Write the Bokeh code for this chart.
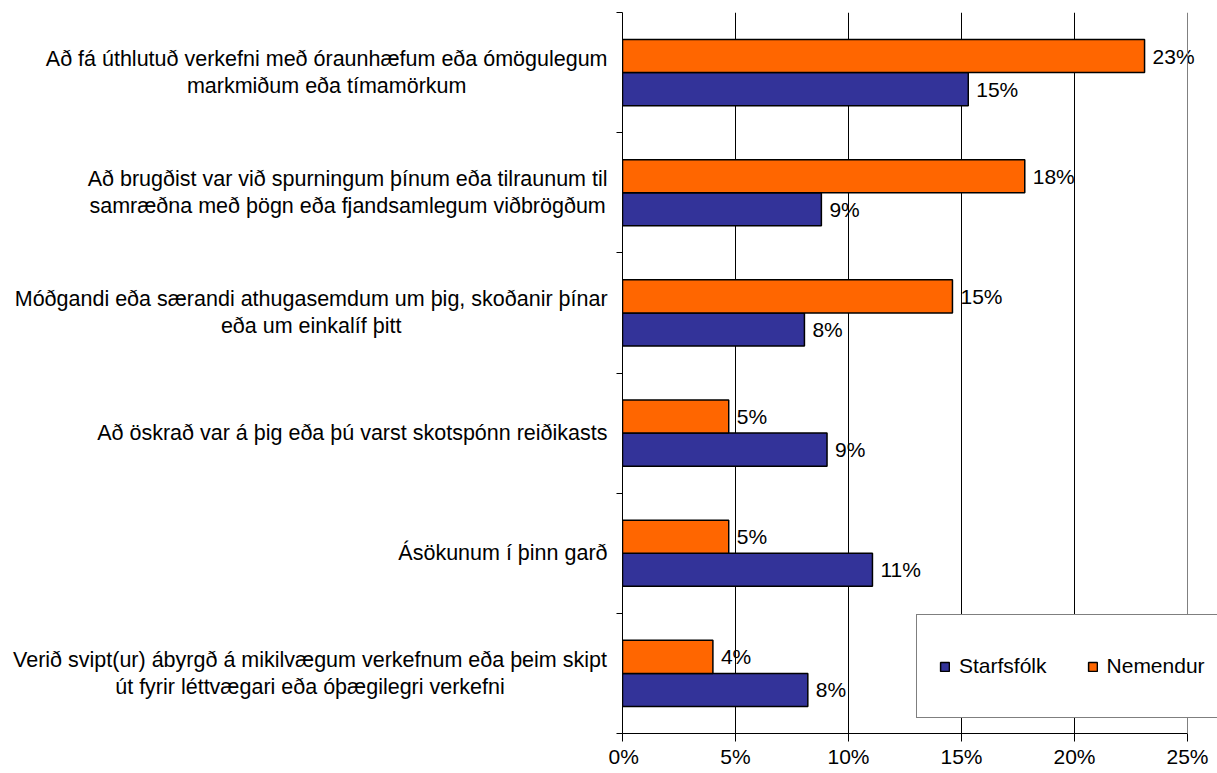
from bokeh.plotting import figure
from bokeh.models import Range1d, FixedTicker, ColumnDataSource, LabelSet, Legend, LegendItem, Span
from bokeh.layouts import row
from bokeh.embed import file_html
from bokeh.resources import INLINE
from bokeh.core.properties import value

# ---------------- data ----------------
categories = [
    ["Að fá úthlutuð verkefni með óraunhæfum eða ómögulegum", "markmiðum eða tímamörkum"],
    ["Að brugðist var við spurningum þínum eða tilraunum til", "samræðna með þögn eða fjandsamlegum viðbrögðum"],
    ["Móðgandi eða særandi athugasemdum um þig, skoðanir þínar", "eða um einkalíf þitt"],
    ["Að öskrað var á þig eða þú varst skotspónn reiðikasts"],
    ["Ásökunum í þinn garð"],
    ["Verið svipt(ur) ábyrgð á mikilvægum verkefnum eða þeim skipt", "út fyrir léttvægari eða óþægilegri verkefni"],
]
starfsfolk = [15.3, 8.8, 8.05, 9.05, 11.06, 8.2]
nemendur = [23.1, 17.8, 14.6, 4.7, 4.7, 4.0]
series_names = ["Starfsfólk", "Nemendur"]
series_colors = ["#333399", "#FF6600"]
x_ticks = [0, 5, 10, 15, 20, 25]
x_tick_labels = ["0%", "5%", "10%", "15%", "20%", "25%"]

FONT = "Liberation Sans"
CAT_FS = 21.5
NUM_FS = 21

# approximate Arial/Liberation Sans advance widths (per 1000 em)
W = {' ': 278, '(': 333, ')': 333, ',': 278, '%': 889, 'A': 667, 'Á': 667, 'M': 833, 'V': 667,
     'a': 556, 'b': 556, 'c': 500, 'd': 556, 'e': 556, 'f': 278, 'g': 556, 'h': 556, 'i': 222,
     'j': 222, 'k': 500, 'l': 222, 'm': 833, 'n': 556, 'o': 556, 'p': 556, 'r': 333, 's': 500,
     't': 278, 'u': 556, 'v': 500, 'y': 500, 'æ': 889, 'ð': 556, 'þ': 556, 'á': 556, 'é': 556,
     'í': 278, 'ó': 556, 'ö': 556, 'ú': 556, 'ý': 500}


def text_w(s, fs):
    return sum(W.get(c, 556) for c in s) * fs / 1000.0


n = len(categories)
centers = [i + 0.5 for i in range(n)]
bar_h = 0.275

y_range = Range1d(n, 0)

TOP = 12
BOTTOM = 40
H = 773

# ---------------- left label panel ----------------
LW = 608
left = figure(width=LW, height=H, x_range=Range1d(0, LW), y_range=y_range,
              x_axis_location=None, y_axis_location=None, toolbar_location=None,
              output_backend="svg", min_border_left=0, min_border_right=0,
              min_border_top=TOP, min_border_bottom=BOTTOM)
left.outline_line_color = None
left.grid.visible = False

right_edge = 607
lx, ly, lt, loff = [], [], [], []
for i, lines in enumerate(categories):
    bw = max(text_w(s, CAT_FS) for s in lines)
    cx = right_edge - bw / 2.0
    k = len(lines)
    for j, s in enumerate(lines):
        lx.append(cx)
        ly.append(centers[i])
        lt.append(s)
        loff.append((j - (k - 1) / 2.0) * 27)
src_l = ColumnDataSource(dict(x=lx, y=ly, text=lt, off=loff))
left.text(x="x", y="y", text="text", y_offset="off", source=src_l,
          text_align="center", text_baseline="middle",
          text_font=value(FONT), text_font_size=f"{CAT_FS}px", text_color="#000000")

# ---------------- chart panel ----------------
# frame runs to the window edge so that the legend box can overhang past 25%
PW = 609
BL = 14
AX_PX = 565                       # pixels spanned by the 0..25 % axis
x_end = x_ticks[-1] * (PW - BL) / AX_PX
p = figure(width=PW, height=H, x_range=Range1d(0, x_end), y_range=y_range,
           toolbar_location=None, output_backend="svg",
           min_border_left=BL, min_border_right=0, min_border_top=TOP, min_border_bottom=BOTTOM)
p.outline_line_color = None
p.background_fill_color = "white"

src = ColumnDataSource(dict(
    y_s=[c + bar_h / 2 for c in centers],
    y_n=[c - bar_h / 2 for c in centers],
    s=starfsfolk, nm=nemendur,
    s_lab=[f"{round(v)}%" for v in starfsfolk],
    n_lab=[f"{round(v)}%" for v in nemendur],
))

r_s = p.hbar(y="y_s", right="s", left=0, height=bar_h, source=src,
             fill_color=series_colors[0], line_color="black", line_width=1.5)
r_n = p.hbar(y="y_n", right="nm", left=0, height=bar_h, source=src,
             fill_color=series_colors[1], line_color="black", line_width=1.5)

for xcol, ycol, tcol in [("s", "y_s", "s_lab"), ("nm", "y_n", "n_lab")]:
    p.add_layout(LabelSet(x=xcol, y=ycol, text=tcol, source=src, x_offset=8,
                          text_baseline="middle", text_align="left",
                          text_font=value(FONT), text_font_size=f"{NUM_FS}px",
                          text_color="#000000"))

# grid
p.ygrid.visible = False
p.xgrid.ticker = FixedTicker(ticks=x_ticks[1:-1])
p.xgrid.grid_line_color = "black"
p.xgrid.grid_line_width = 1
p.xgrid.grid_line_alpha = 1.0
p.add_layout(Span(location=x_ticks[-1], dimension="height", line_color="#808080", line_width=1))

# x axis
xa = p.xaxis[0]
xa.bounds = (x_ticks[0], x_ticks[-1])
xa.ticker = FixedTicker(ticks=x_ticks)
xa.major_label_overrides = {t: l for t, l in zip(x_ticks, x_tick_labels)}
xa.major_tick_out = 8
xa.major_tick_in = 0
xa.minor_tick_out = 0
xa.minor_tick_in = 0
xa.axis_line_color = "black"
xa.major_tick_line_color = "black"
xa.major_label_standoff = 3
xa.major_label_text_font = FONT
xa.major_label_text_font_size = f"{NUM_FS}px"
xa.major_label_text_color = "#000000"

# y axis (ticks at band boundaries, no labels)
ya = p.yaxis[0]
ya.ticker = FixedTicker(ticks=list(range(n + 1)))
ya.major_label_overrides = {i: "" for i in range(n + 1)}
ya.major_label_text_font_size = "0px"
ya.major_label_standoff = 0
ya.major_tick_out = 6
ya.major_tick_in = 0
ya.minor_tick_out = 0
ya.minor_tick_in = 0
ya.axis_line_color = "black"
ya.major_tick_line_color = "black"

legend = Legend(items=[LegendItem(label=series_names[0], renderers=[r_s]),
                       LegendItem(label=series_names[1], renderers=[r_n])],
                orientation="horizontal", location=(294, 15))
legend.border_line_color = "black"
legend.border_line_width = 1
legend.background_fill_color = "white"
legend.background_fill_alpha = 1.0
legend.glyph_width = 11
legend.glyph_height = 11
legend.label_standoff = 9
legend.spacing = 40
legend.padding = 22
legend.margin = 0
legend.label_height = 58
legend.label_text_font = FONT
legend.label_text_font_size = f"{NUM_FS}px"
legend.label_text_color = "#000000"
p.add_layout(legend)

layout = row(left, p)
open("out.html", "w").write(file_html(layout, INLINE))
